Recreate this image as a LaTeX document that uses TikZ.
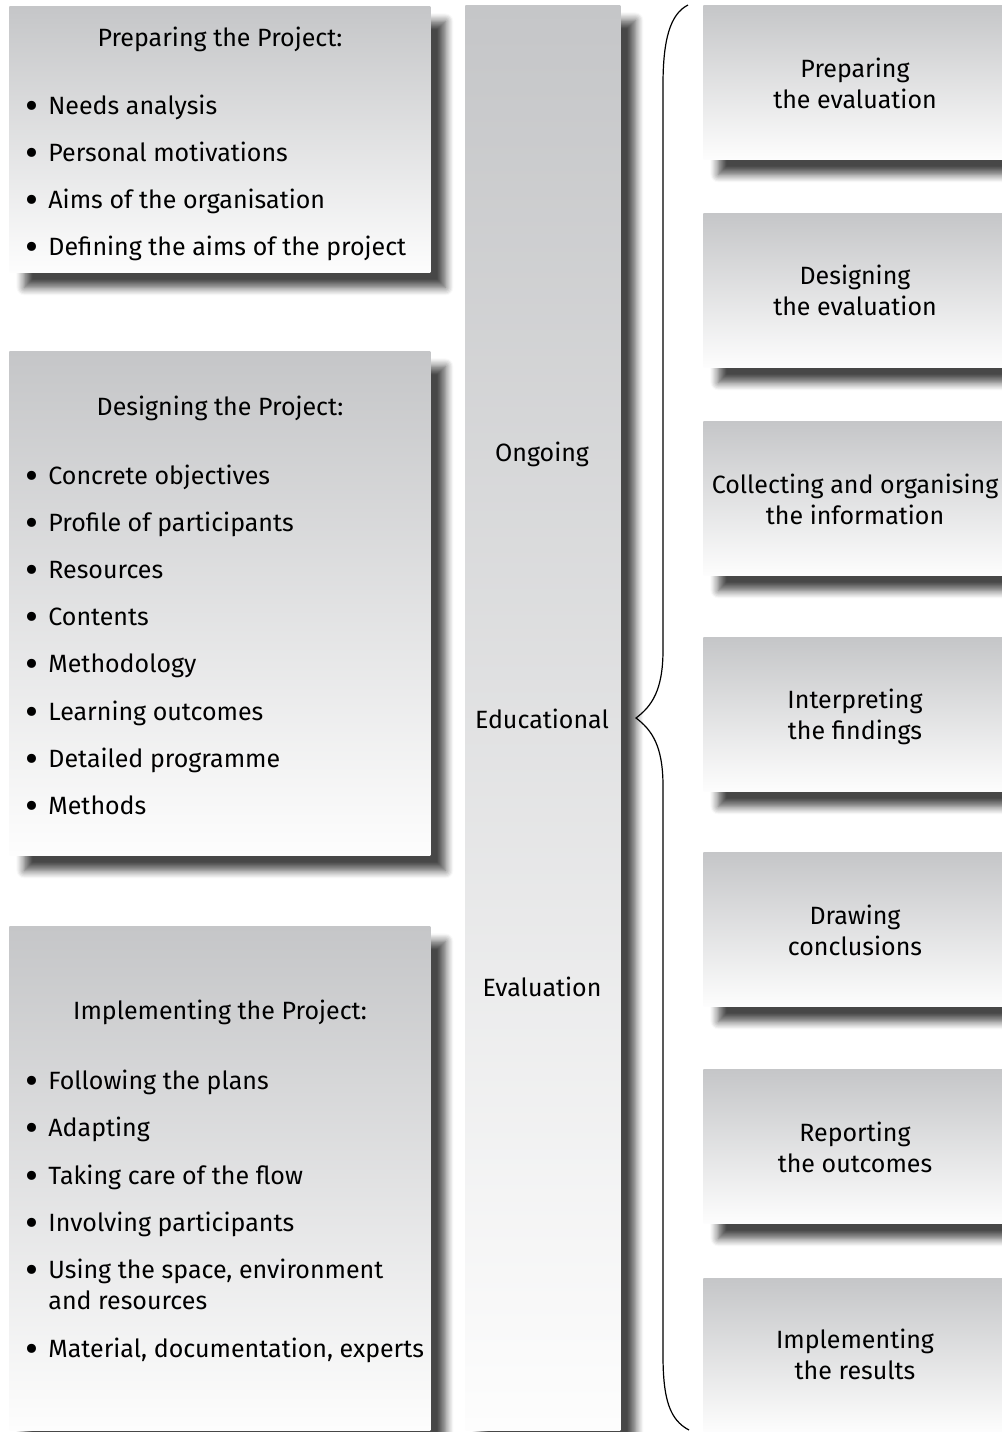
\documentclass[tikz,border=0pt]{standalone}
\usepackage{fontspec}
\setmainfont{Fira Sans}
\usetikzlibrary{shadows.blur}
\definecolor{panelTop}{HTML}{C5C6C8}
\definecolor{panelBot}{HTML}{FDFDFD}
\newcommand\itemdot{\llap{\raisebox{-2.8pt}{\scalebox{1.6}{\textbullet}}\hspace{5pt}}}
\newcommand\twolines[2]{\begin{tabular}[t]{@{}c@{}}#1\\#2\end{tabular}}
\begin{document}
\begin{tikzpicture}[x=0.5pt,y=-0.5pt,
  panel/.style={rectangle, inner sep=0pt, anchor=north west, draw=none,
    top color=panelTop, bottom color=panelBot,
    blur shadow={shadow xshift=7.5pt, shadow yshift=-7.5pt,
      shadow blur radius=4pt, shadow blur steps=8, shadow opacity=72}},
  txt/.style={inner sep=0pt, font=\fontsize{12.5}{15.5}\selectfont},
  boxtitle/.style={txt, anchor=base},
  listitem/.style={txt, anchor=base west},
  stage/.style={txt, anchor=base},
  leftpanel/.style={panel, minimum width=210.5pt},
  stagepanel/.style={panel, minimum width=156pt, minimum height=77pt},
  brace/.style={draw=black, line width=0.6pt},
]
\useasboundingbox (0,0) rectangle (1002,1432);
\clip (0,0) rectangle (1002,1432);

% left column: the three project phases
\node[leftpanel, minimum height=133pt] (prep) at (9,6) {};
\node[leftpanel, minimum height=252pt] (design) at (9,351) {};
\node[leftpanel, minimum height=252pt] (impl) at (9,926) {};

% central column
\node[panel, minimum width=77.5pt, minimum height=712.5pt] (col) at (465,5) {};

% right column: the evaluation steps
\node[stagepanel] (s1) at (703,5) {};
\node[stagepanel] (s2) at (703,213) {};
\node[stagepanel] (s3) at (703,421) {};
\node[stagepanel] (s4) at (703,637) {};
\node[stagepanel] (s5) at (703,852) {};
\node[stagepanel] (s6) at (703,1069) {};
\node[stagepanel] (s7) at (703,1278) {};

% texts of the left column
\node[boxtitle] (prepT) at (220,46) {Preparing the Project:};
\node[listitem] (p1) at (48,114) {\itemdot Needs analysis};
\node[listitem] (p2) at (48,161) {\itemdot Personal motivations};
\node[listitem] (p3) at (48,208) {\itemdot Aims of the organisation};
\node[listitem] (p4) at (48,255) {\itemdot Defining the aims of the project};

\node[boxtitle] (designT) at (220,415) {Designing the Project:};
\node[listitem] (d1) at (48,484) {\itemdot Concrete objectives};
\node[listitem] (d2) at (48,531) {\itemdot Profile of participants};
\node[listitem] (d3) at (48,578) {\itemdot Resources};
\node[listitem] (d4) at (48,625) {\itemdot Contents};
\node[listitem] (d5) at (48,672) {\itemdot Methodology};
\node[listitem] (d6) at (48,720) {\itemdot Learning outcomes};
\node[listitem] (d7) at (48,767) {\itemdot Detailed programme};
\node[listitem] (d8) at (48,814) {\itemdot Methods};

\node[boxtitle] (implT) at (220,1019) {Implementing the Project:};
\node[listitem] (i1) at (48,1089) {\itemdot Following the plans};
\node[listitem] (i2) at (48,1136) {\itemdot Adapting};
\node[listitem] (i3) at (48,1184) {\itemdot Taking care of the flow};
\node[listitem] (i4) at (48,1231) {\itemdot Involving participants};
\node[listitem] (i5) at (48,1278) {\itemdot\begin{tabular}[t]{@{}l@{}}Using the space, environment\\and resources\end{tabular}};
\node[listitem] (i6) at (48,1357) {\itemdot Material, documentation, experts};

% texts of the central column
\node[stage] (c1) at (542,461) {Ongoing};
\node[stage] (c2) at (542,728) {Educational};
\node[stage] (c3) at (542,996) {Evaluation};

% texts of the right column
\node[stage] (t1) at (855,77) {\twolines{Preparing}{the evaluation}};
\node[stage] (t2) at (855,284) {\twolines{Designing}{the evaluation}};
\node[stage] (t3) at (855,493) {\twolines{Collecting and organising}{the information}};
\node[stage] (t4) at (855,708) {\twolines{Interpreting}{the findings}};
\node[stage] (t5) at (855,924) {\twolines{Drawing}{conclusions}};
\node[stage] (t6) at (855,1141) {\twolines{Reporting}{the outcomes}};
\node[stage] (t7) at (855,1348) {\twolines{Implementing}{the results}};

% curly brace grouping the evaluation steps
\coordinate (braceTop) at (688,5);
\coordinate (braceTip) at (636,718);
\coordinate (braceBot) at (689,1430);
\draw[brace] (braceTop) .. controls (670,14) and (663,40) .. (663,85)
  -- (663,650) .. controls (663,690) and (652,706) .. (braceTip)
  .. controls (652,730) and (663,746) .. (663,786)
  -- (663,1355) .. controls (663,1400) and (670,1420) .. (braceBot);
\end{tikzpicture}
\end{document}
